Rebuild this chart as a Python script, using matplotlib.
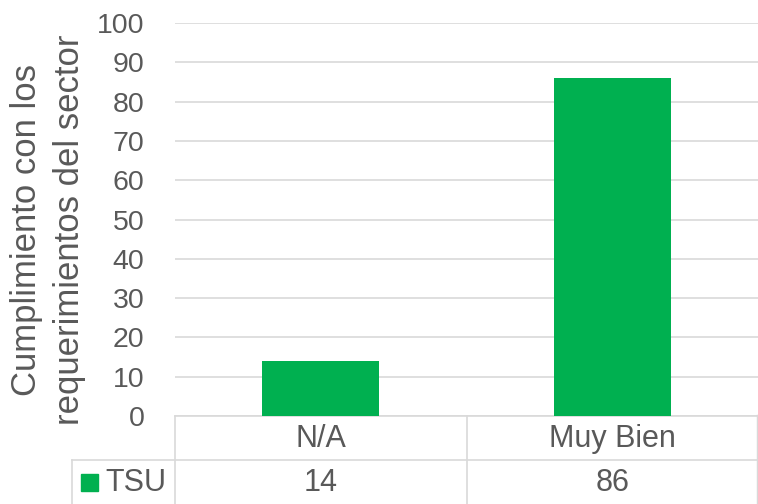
import matplotlib
matplotlib.use("Agg")
import matplotlib.pyplot as plt
from matplotlib.transforms import blended_transform_factory
from matplotlib.lines import Line2D
from matplotlib.patches import Rectangle

categories = ["N/A", "Muy Bien"]
series_name = "TSU"
values = [14, 86]
yticks = [0, 10, 20, 30, 40, 50, 60, 70, 80, 90, 100]

W, H = 758, 504
GREEN = "#00B050"
TEXT = "#595959"
GRID = "#D9D9D9"
plt.rcParams["font.family"] = ["Liberation Sans", "DejaVu Sans"]

fig = plt.figure(figsize=(W / 100, H / 100), dpi=100)
ax = fig.add_axes([175 / W, (H - 416) / H, (W - 175) / W, (416 - 23) / H])
x = list(range(len(categories)))
ax.bar(x, values, width=0.4, color=GREEN, zorder=3)
ax.set_xlim(-0.5, len(categories) - 0.5)
ax.set_ylim(0, 100)
ax.set_yticks(yticks)
ax.set_yticklabels([str(t) for t in yticks], fontsize=20.5, color=TEXT)
ax.tick_params(axis="y", length=0, pad=22)
ax.set_xticks([])
ax.grid(axis="y", color=GRID, linewidth=1.2, zorder=0)
for s in ["top", "right", "left", "bottom"]:
    ax.spines[s].set_visible(False)

fig.text(27 / W, (H - 230) / H, "Cumplimiento con los", rotation=90,
         fontsize=25, color=TEXT, ha="center", va="center")
fig.text(70 / W, (H - 230) / H, "requerimientos del sector", rotation=90,
         fontsize=25, color=TEXT, ha="center", va="center")

# data table
tr = blended_transform_factory(ax.transData, fig.transFigure)
def fy(p):
    return (H - p) / H
lw = 1.2
ax.add_line(Line2D([-0.5, 1.5], [fy(416), fy(416)], transform=tr, color=GRID, lw=lw, clip_on=False))
fig.add_artist(Line2D([72 / W, 1], [fy(460), fy(460)], color=GRID, lw=lw))
for b in [-0.5, 0.5]:
    ax.add_line(Line2D([b, b], [fy(416), 0], transform=tr, color=GRID, lw=lw, clip_on=False))
ax.add_line(Line2D([1.5, 1.5], [fy(416), 0], transform=tr, color=GRID, lw=2.5, clip_on=False))
fig.add_artist(Line2D([72 / W, 72 / W], [fy(460), 0], color=GRID, lw=lw))

for i, c in enumerate(categories):
    ax.text(i, fy(439), c, transform=tr, ha="center", va="center", fontsize=22, color=TEXT)
    ax.text(i, fy(483), str(values[i]), transform=tr, ha="center", va="center", fontsize=22, color=TEXT)

fig.add_artist(Rectangle((81 / W, fy(491)), 17 / W, 17 / H, color=GREEN, transform=fig.transFigure))
fig.text(105 / W, fy(483), series_name, ha="left", va="center", fontsize=22, color=TEXT)

fig.savefig("out.png", dpi=100)
